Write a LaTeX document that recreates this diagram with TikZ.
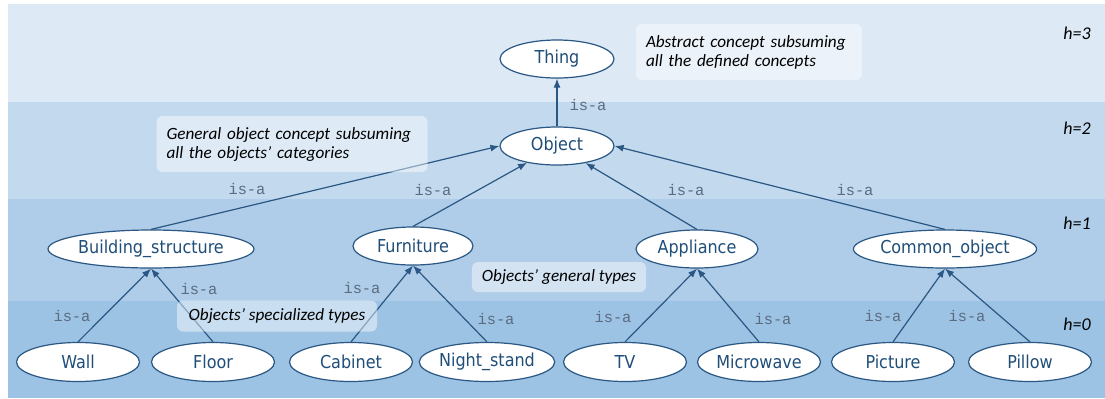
\documentclass[tikz,border=0pt]{standalone}
\usepackage{fontspec}
\setsansfont{DejaVu Sans Condensed}
\setmonofont{Liberation Mono}
\newfontfamily\notefont{Carlito}
\usetikzlibrary{shapes.geometric,arrows.meta}

\definecolor{levelthree}{HTML}{DDE9F5}
\definecolor{leveltwo}{HTML}{C3DAEE}
\definecolor{levelone}{HTML}{AFCDE8}
\definecolor{levelzero}{HTML}{9DC3E4}
\definecolor{edgeblue}{HTML}{2A5783}
\definecolor{nodeblue}{HTML}{1F4E79}
\definecolor{isagray}{HTML}{5B6B80}

\begin{document}
\begin{tikzpicture}[x=0.5pt, y=-0.5pt,
    concept/.style={draw=edgeblue, semithick, ellipse, fill=white, inner sep=0pt,
                    minimum height=19.5pt, text=nodeblue,
                    font=\sffamily\fontsize{8.9}{10}\selectfont},
    isa/.style={text=isagray, font=\ttfamily\fontsize{7.7}{9}\selectfont, inner sep=1pt},
    rel/.style={draw=edgeblue, semithick, -{Latex[length=4.5pt,width=3.5pt]}},
    note/.style={fill=white, fill opacity=0.45, text opacity=1, rounded corners=3pt,
                 align=left, inner xsep=5pt, font=\notefont\itshape\fontsize{8.6}{9.5}\selectfont},
    level/.style={font=\notefont\itshape\fontsize{9}{10}\selectfont}
]
    \useasboundingbox (0,0) rectangle (1105,398);

    % height bands
    \fill[levelthree] (8,4) rectangle (1105,102);
    \fill[leveltwo] (8,102) rectangle (1105,199);
    \fill[levelone] (8,199) rectangle (1105,301);
    \fill[levelzero] (8,301) rectangle (1105,398);

    \node[level] (h3) at (1077,33) {h=3};
    \node[level] (h2) at (1077,128) {h=2};
    \node[level] (h1) at (1077,223) {h=1};
    \node[level] (h0) at (1077,324) {h=0};

    % concepts
    \node[concept, minimum width=57pt, minimum height=19pt] (thing) at (557,59) {Thing};
    \node[concept, minimum width=57pt, minimum height=19pt] (obj) at (557,146) {Object};

    \node[concept, minimum width=85pt, minimum height=19pt] (bs) at (151,249) {Building\_structure};
    \node[concept, minimum width=60pt, minimum height=19pt] (fur) at (413,246) {Furniture};
    \node[concept, minimum width=61pt, minimum height=19pt] (app) at (697,249) {Appliance};
    \node[concept, minimum width=70pt, minimum height=19pt] (co) at (945,249) {Common\_object};

    \node[concept, minimum width=61.5pt] (wall) at (78,362) {Wall};
    \node[concept, minimum width=61.5pt] (floor) at (213,362) {Floor};
    \node[concept, minimum width=61.5pt] (cab) at (351,362) {Cabinet};
    \node[concept, minimum width=61.5pt] (night) at (487,362) {Night\_stand};
    \node[concept, minimum width=61.5pt] (tv) at (625,362) {TV};
    \node[concept, minimum width=61.5pt] (micro) at (759,362) {Microwave};
    \node[concept, minimum width=61.5pt] (pic) at (893,362) {Picture};
    \node[concept, minimum width=61.5pt] (pillow) at (1030,362) {Pillow};

    % is-a relations
    \draw[rel] (obj) -- (thing);
    \draw[rel] (bs.north) -- (obj.west);
    \draw[rel] (fur.north) -- (obj);
    \draw[rel] (app.north) -- (obj);
    \draw[rel] (co.north) -- (obj.east);
    \foreach \child/\parent in {wall/bs, floor/bs, cab/fur, night/fur, tv/app, micro/app, pic/co, pillow/co}
        \draw[rel] (\child.north) -- (\parent.south);

    \foreach \x/\y [count=\i] in {588/105, 247/189, 433/190, 686/190, 855/190, 72/316, 199/289,
                                  362/288, 496/319, 613/317, 773/319, 883/316, 967/316}
        \node[isa] (isa\i) at (\x,\y) {is-a};

    % notes
    \node[note, text width=103pt, minimum height=28pt] (abstract) at (749,52)
        {Abstract concept subsuming\\all the defined concepts};
    \node[note, text width=125.5pt, minimum height=28pt] (general) at (292,144)
        {General object concept subsuming\\all the objects’ categories};
    \node[note, minimum width=87pt, minimum height=15pt] (types) at (559,277)
        {Objects’ general types};
    \node[note, minimum width=100pt, minimum height=15.5pt] (special) at (277,316)
        {Objects’ specialized types};
\end{tikzpicture}
\end{document}
